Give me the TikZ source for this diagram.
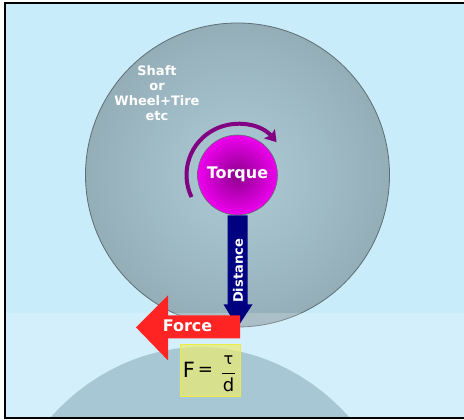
\documentclass[tikz,border=0pt]{standalone}
\usepackage{fontspec}
\setmainfont{DejaVu Sans}
\usetikzlibrary{calc,arrows.meta}
\definecolor{sky}{RGB}{200,236,250}
\definecolor{hillc}{RGB}{168,199,213}
\definecolor{wheelin}{RGB}{174,204,214}
\definecolor{wheelout}{RGB}{148,174,184}
\definecolor{wheelrim}{RGB}{96,110,116}
\definecolor{hubin}{RGB}{140,0,140}
\definecolor{hubout}{RGB}{238,0,238}
\definecolor{torquec}{RGB}{130,0,130}
\definecolor{navyc}{RGB}{0,0,128}
\definecolor{forcec}{RGB}{255,36,36}
\definecolor{boxfill}{RGB}{236,236,110}
\definecolor{boxedge}{RGB}{236,236,70}
\tikzset{
  whitelabel/.style={text=white, font=\bfseries, align=center, inner sep=0pt},
  formula/.style={text=black, inner sep=0pt},
}
\begin{document}
\begin{tikzpicture}[x=1pt,y=1pt]
\useasboundingbox (0,0) rectangle (464,420);
% sky and frame
\fill[white] (0,0) rectangle (464,420);
\fill[sky] (5,2) rectangle (464,417);
% wheel
\node[circle, minimum size=304pt, inner sep=0pt, draw=wheelrim, line width=0.8pt,
      inner color=wheelin, outer color=wheelout] (wheel) at (237.5,245) {};
% lighter lower band
\fill[white, opacity=0.2] (5,2) rectangle (464,107);
% ground hill
\fill[hillc] (50,2) .. controls (100,58) and (160,73) .. (200,73)
  .. controls (240,73) and (300,58) .. (350,2) -- cycle;
% hub
\node[circle, minimum size=80pt, inner sep=0pt, draw=wheelrim, line width=0.6pt,
      inner color=hubin, outer color=hubout] (hub) at (wheel.center) {};
\node[whitelabel, font=\bfseries\fontsize{16}{19}\selectfont] (torque) at (237.5,246) {Torque};
% torque arrow around the hub
\draw[torquec, line width=4pt, -{Stealth[length=11pt,width=14pt,inset=2pt]}]
  ($(hub.center)+(205.6:51)$) arc[start angle=205.6, end angle=40, radius=51];
% shaft label
\node[whitelabel, font=\bfseries\fontsize{13}{15.2}\selectfont] (shaft) at (157,327)
  {Shaft\\or\\Wheel+Tire\\etc};
% distance arrow from hub to contact point
\coordinate (contact) at (wheel.south);
\fill[navyc] ($(hub.south)+(-10,0)$) -- ($(hub.south)+(10,0)$)
  -- ($(contact)+(10,23)$) -- ($(contact)+(15,23)$) -- (contact)
  -- ($(contact)+(-14,23)$) -- ($(contact)+(-10,23)$) -- cycle;
\node[whitelabel, rotate=90, font=\bfseries\fontsize{13}{15}\selectfont] (dist) at (238,149) {Distance};
% force arrow
\fill[forcec] ($(contact)+(2.5,12)$) -- ($(contact)+(-69.5,12)$) -- ($(contact)+(-69.5,32)$)
  -- ($(contact)+(-101.5,0)$) -- ($(contact)+(-69.5,-33)$) -- ($(contact)+(-69.5,-11)$)
  -- ($(contact)+(2.5,-11)$) -- cycle;
\node[whitelabel, font=\bfseries\fontsize{16}{18}\selectfont] (force) at (187.5,94) {Force};
% formula box
\node[draw=boxedge, line width=1pt, fill=boxfill, fill opacity=0.7,
      minimum width=60pt, minimum height=52pt, inner sep=0pt] (fbox) at (210,49) {};
\node[formula, font=\fontsize{21}{24}\selectfont] (fF) at (189,50) {F};
\node[formula, font=\fontsize{18}{20}\selectfont] (feq) at (205.5,48.5) {=};
\node[formula, font=\fontsize{16}{18}\selectfont] (ftau) at (228.5,60) {τ};
\draw[black, line width=0.9pt] (222,47) -- (235,47);
\node[formula, font=\fontsize{18}{20}\selectfont] (fd) at (228.5,35) {d};
% frame lines
\draw[black, line width=2pt] (464,417) -- (5,417) -- (5,2) -- (464,2);
\end{tikzpicture}
\end{document}
